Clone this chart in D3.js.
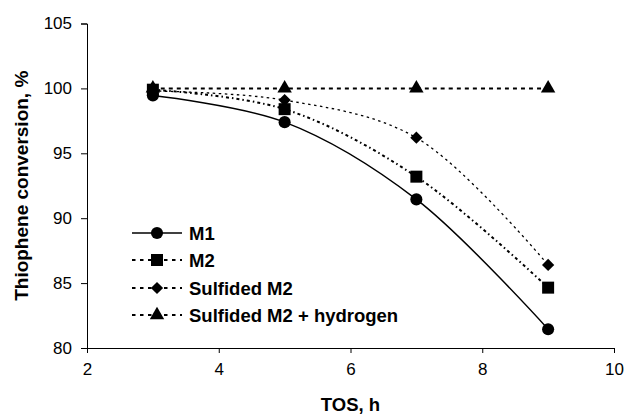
<!DOCTYPE html>
<html>
<head>
<meta charset="utf-8">
<script src="https://cdn.jsdelivr.net/npm/d3@7"></script>
<style>
  body { margin: 0; background: #fff; }
  svg { font-family: "Liberation Sans", Arial, sans-serif; }
</style>
</head>
<body>
<svg id="chart" width="627" height="416"></svg>
<script>
// data
var tos = [3, 5, 7, 9];
var m1 = [99.45, 97.4, 91.45, 81.45];
var m2 = [99.9, 98.4, 93.2, 84.65];
var sulfided = [99.8, 99.1, 96.2, 86.4];
var sulfidedH2 = [100, 100, 100, 100];
var xTicks = [2, 4, 6, 8, 10];
var yTicks = [80, 85, 90, 95, 100, 105];

var diamond = {
    draw: function (ctx, size) {
        var r = Math.sqrt(size / 2);
        ctx.moveTo(0, -r); ctx.lineTo(r, 0); ctx.lineTo(0, r); ctx.lineTo(-r, 0); ctx.closePath();
    }
};

var series = [
  {name: "M1", values: m1, symbol: d3.symbolCircle, size: 115, dash: null, width: 1.5},
  {name: "M2", values: m2, symbol: d3.symbolSquare, size: 144, dash: "3,3,1.5,3", width: 2},
  {name: "Sulfided M2", values: sulfided, symbol: diamond, size: 75, dash: "2.5,3.5", width: 1.3},
  {name: "Sulfided M2 + hydrogen", values: sulfidedH2, symbol: d3.symbolTriangle, size: 90, dash: "4,4", width: 2}
];

var svg = d3.select("#chart");

var x = d3.scaleLinear().domain([2, 10]).range([87, 614]);
var y = d3.scaleLinear().domain([80, 105]).range([348, 23.5]);

// axes
svg.append("g")
    .attr("transform", "translate(0," + y(80) + ")")
    .call(d3.axisBottom(x).tickValues(xTicks).tickSize(5).tickPadding(10))
    .call(function (g) {
        g.selectAll("text").attr("font-size", 17).attr("font-family", "Liberation Sans, Arial, sans-serif");
    });

svg.append("g")
    .attr("transform", "translate(" + x(2) + ",0)")
    .call(d3.axisLeft(y).tickValues(yTicks).tickSize(6).tickPadding(9))
    .call(function (g) {
        g.selectAll("text").attr("font-size", 17).attr("font-family", "Liberation Sans, Arial, sans-serif");
    });

svg.selectAll(".domain, .tick line").attr("stroke", "#000");

// lines
var line = d3.line()
    .x(function (d, i) { return x(tos[i]); })
    .y(function (d) { return y(d); })
    .curve(d3.curveCatmullRom.alpha(0.5));

series.forEach(function (s) {
    svg.append("path")
        .attr("d", line(s.values))
        .attr("fill", "none")
        .attr("stroke", "#000")
        .attr("stroke-width", s.width)
        .attr("stroke-dasharray", s.dash);
});

series.forEach(function (s) {
    svg.selectAll(null)
        .data(s.values)
        .enter().append("path")
        .attr("d", d3.symbol().type(s.symbol).size(s.size))
        .attr("transform", function (d, i) { return "translate(" + x(tos[i]) + "," + y(d) + ")"; })
        .attr("fill", "#000");
});

// legend
var legendY = [233, 260, 288, 315];
series.forEach(function (s, i) {
    var g = svg.append("g").attr("transform", "translate(132," + legendY[i] + ")");
    g.append("line")
        .attr("x1", 0).attr("x2", 50)
        .attr("stroke", "#000")
        .attr("stroke-width", s.dash ? 2 : 1.5)
        .attr("stroke-dasharray", s.dash ? "3.5,4.5" : null);
    g.append("path")
        .attr("d", d3.symbol().type(s.symbol).size(s.size))
        .attr("transform", "translate(25,0)")
        .attr("fill", "#000");
    g.append("text")
        .attr("x", 57).attr("y", 6.5)
        .attr("font-size", 18.5)
        .attr("font-weight", "bold")
        .text(s.name);
});

// axis titles
svg.append("text")
    .attr("x", (x(2) + x(10)) / 2)
    .attr("y", 411)
    .attr("text-anchor", "middle")
    .attr("font-size", 18.5)
    .attr("font-weight", "bold")
    .text("TOS, h");

svg.append("text")
    .attr("transform", "translate(28," + (y(80) + y(105)) / 2 + ") rotate(-90)")
    .attr("text-anchor", "middle")
    .attr("font-size", 19)
    .attr("font-weight", "bold")
    .text("Thiophene conversion, %");
</script>
</body>
</html>
